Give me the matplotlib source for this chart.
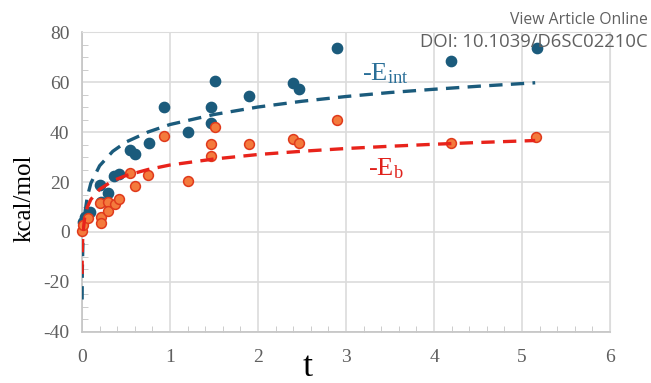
import matplotlib.pyplot as plt
from matplotlib.ticker import MultipleLocator

plt.rcParams['font.family'] = ['Liberation Serif', 'DejaVu Serif']
plt.rcParams['mathtext.fontset'] = 'custom'
plt.rcParams['mathtext.rm'] = 'Liberation Serif'
plt.rcParams['mathtext.it'] = 'Liberation Serif:italic'
plt.rcParams['axes.unicode_minus'] = False

# -E_int data points (blue)
eint_t = [0.01, 0.03, 0.09, 0.22, 0.20, 0.30, 0.36, 0.42, 0.54, 0.60, 0.76, 0.93,
          1.21, 1.47, 1.47, 1.51, 1.90, 2.40, 2.47, 2.90, 4.19, 5.17]
eint_v = [4.0, 6.0, 8.0, 12.0, 18.8, 15.5, 22.5, 23.2, 32.8, 31.2, 35.7, 50.1,
          40.1, 43.7, 50.1, 60.4, 54.5, 59.5, 57.3, 73.6, 68.4, 73.6]

# -E_b data points (orange)
eb_t = [0.0, 0.015, 0.07, 0.20, 0.22, 0.22, 0.30, 0.30, 0.37, 0.42, 0.55, 0.60,
        0.75, 0.93, 1.21, 1.47, 1.47, 1.51, 1.90, 2.40, 2.47, 2.90, 4.19, 5.16]
eb_v = [0.5, 2.8, 5.5, 11.5, 6.1, 3.7, 12.1, 8.4, 11.2, 13.1, 23.5, 18.4,
        22.8, 38.4, 20.5, 35.2, 30.4, 42.1, 35.2, 37.1, 35.7, 44.8, 35.7, 38.1]

# trend lines
fit_int_t = [0.001, 0.003, 0.01, 0.03, 0.06, 0.1, 0.2, 0.35, 0.5, 0.75, 1.0, 1.5,
             2.0, 2.5, 3.0, 3.5, 4.0, 4.5, 5.15]
fit_int_v = [-27, -16, -4, 7, 14, 19.5, 26.5, 32.3, 36, 40, 43, 47,
             50, 52.3, 54.2, 55.8, 57.1, 58.3, 59.7]
fit_b_t = [0.0007, 0.002, 0.005, 0.01, 0.03, 0.06, 0.1, 0.2, 0.35, 0.5, 0.75, 1.0,
           1.5, 2.0, 2.5, 3.0, 3.5, 4.0, 4.5, 5.15]
fit_b_v = [-16.8, -10.5, -5, -0.8, 5.8, 9.9, 13, 17.1, 20.5, 22.6, 25, 26.8,
           29.2, 31, 32.3, 33.4, 34.3, 35.1, 35.8, 36.6]

blue = '#1b5b7c'
red = '#e8231b'

fig = plt.figure(figsize=(6.51, 3.83), dpi=100)
ax = fig.add_axes([0.126, 0.1332, 0.811, 0.7832])

ax.plot(fit_int_t, fit_int_v, color=blue, lw=2.4, dashes=(4, 2.5), zorder=3)
ax.scatter(eint_t, eint_v, s=55, color=blue, zorder=4, clip_on=False)
ax.scatter(eb_t, eb_v, s=50, facecolor='#f47a3c', edgecolor='#e03a1c', linewidth=1.1,
           zorder=5, clip_on=False)
ax.plot(fit_b_t, fit_b_v, color=red, lw=2.4, dashes=(4, 2.5), zorder=6)

ax.text(3.18, 60.8, '-E$_{\\mathrm{int}}$', color='#2a6f98', fontsize=19)
ax.text(3.25, 22.8, '-E$_{\\mathrm{b}}$', color='#e0221c', fontsize=19)

ax.set_xlim(0, 6)
ax.set_ylim(-40, 80)
ax.xaxis.set_major_locator(MultipleLocator(1))
ax.xaxis.set_minor_locator(MultipleLocator(0.2))
ax.yaxis.set_major_locator(MultipleLocator(20))
ax.yaxis.set_minor_locator(MultipleLocator(5))
ax.grid(True, which='major', color='#dcdcdc', lw=1.2)
ax.set_axisbelow(True)
for side in ['top', 'right']:
    ax.spines[side].set_color('#dcdcdc')
for side in ['left', 'bottom']:
    ax.spines[side].set_color('#c4c4c4')
    ax.spines[side].set_linewidth(1.2)
ax.tick_params(which='both', direction='in', color='#c4c4c4', labelcolor='#5f5f5f',
               labelsize=14, top=False, right=False)
ax.tick_params(which='major', length=0, pad=9)
ax.tick_params(which='minor', length=4)
ax.tick_params(axis='x', pad=12)

fig.text(0.037, 0.483, 'kcal/mol', rotation=90, fontsize=18, ha='center', va='center')
fig.text(0.473, 0.018, 't', fontsize=26, ha='center', va='baseline')

fig.text(0.995, 0.948, 'View Article Online', family='Open Sans', color='#606060',
         fontsize=11.3, ha='right', va='center')
fig.text(0.995, 0.89, 'DOI: 10.1039/D6SC02210C', family='Open Sans', color='#606060',
         fontsize=13.3, ha='right', va='center')

fig.savefig('out.png', dpi=100)
